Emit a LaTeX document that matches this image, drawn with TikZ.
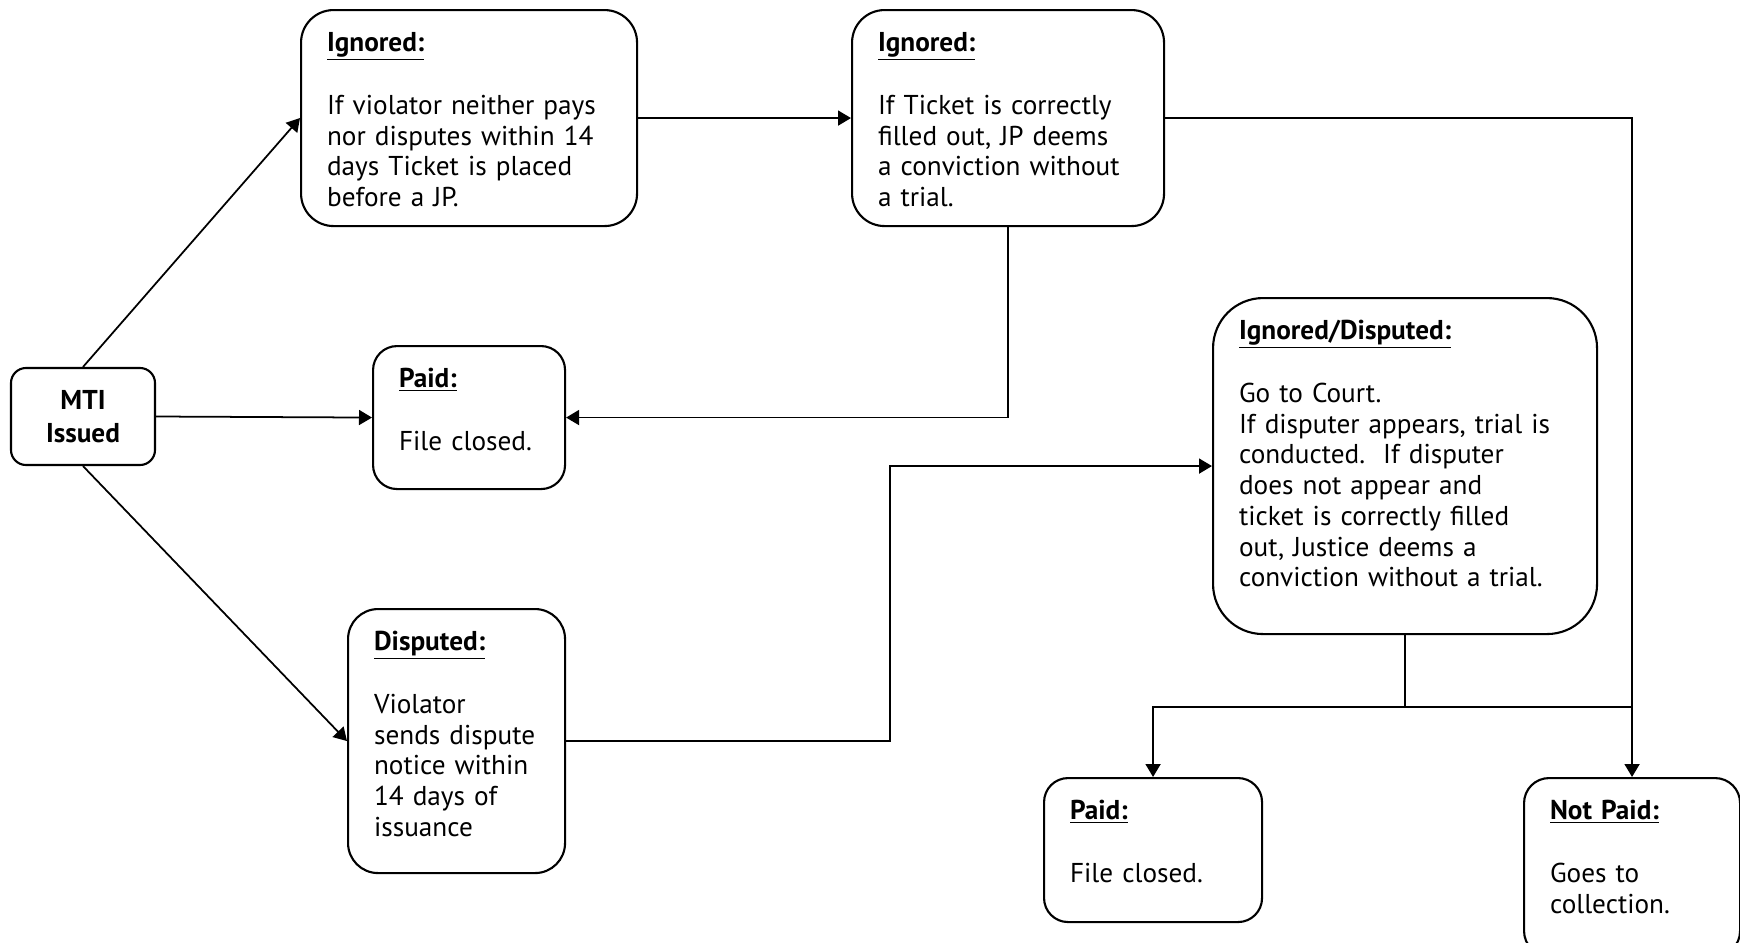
\documentclass[tikz,border=0pt]{standalone}
\usepackage{fontspec}
\setmainfont{PT Sans}
\usepackage{tikz}
\usetikzlibrary{arrows.meta}

\tikzset{
  card/.style={rectangle, draw=black, line width=1.2pt, text width=#1,
    align=left, inner xsep=0.52cm, inner ysep=0.44cm, text height=0.38cm,
    anchor=north west, font=\fontsize{15.5}{17.5}\selectfont},
  flow/.style={line width=1pt, -{Triangle[length=0.26cm,width=0.3cm]}}
}

\begin{document}
\begin{tikzpicture}
\clip (0,0) rectangle (34.8,-18.84);
\fill[white] (0,0) rectangle (34.8,-18.84);
% boxes
\node[rectangle, rounded corners=0.3cm, draw=black, line width=1.2pt,
minimum width=2.88cm, minimum height=1.94cm, align=center,
font=\fontsize{15.5}{19}\selectfont\bfseries] (mti) at (1.66,-8.33) {MTI\\ Issued};
\node[card=5.68cm, text depth=3.06cm, rounded corners=0.65cm] (ign1) at (6.0,-0.18)
{\underline{\textbf{Ignored:}}\\[18.5pt] If violator neither pays\\ nor disputes within 14\\ days Ticket is placed\\ before a JP.};
\node[card=5.20cm, text depth=3.06cm, rounded corners=0.65cm] (ign2) at (17.02,-0.18)
{\underline{\textbf{Ignored:}}\\[18.5pt] If Ticket is correctly\\ filled out, JP deems\\ a conviction without\\ a trial.};
\node[card=2.80cm, text depth=1.60cm, rounded corners=0.48cm] (paid1) at (7.44,-6.90)
{\underline{\textbf{Paid:}}\\[18.5pt] File closed.};
\node[card=3.30cm, text depth=4.02cm, rounded corners=0.6cm] (disp) at (6.94,-12.16)
{\underline{\textbf{Disputed:}}\\[18.5pt] Violator\\ sends dispute\\ notice within\\ 14 days of\\ issuance};
\node[card=6.64cm, text depth=5.46cm, rounded corners=1.0cm] (igndisp) at (24.24,-5.94)
{\underline{\textbf{Ignored/Disputed:}}\\[18.5pt] Go to Court.\\ If disputer appears, trial is\\ conducted.\ \ If disputer\\ does not appear and\\ ticket is correctly filled\\ out, Justice deems a\\ conviction without a trial.};
\node[card=3.32cm, text depth=1.62cm, rounded corners=0.48cm] (paid2) at (20.86,-15.54)
{\underline{\textbf{Paid:}}\\[18.5pt] File closed.};
\node[card=3.28cm, text depth=2.30cm, rounded corners=0.5cm] (notpaid) at (30.46,-15.54)
{\underline{\textbf{Not Paid:}}\\[18.5pt] Goes to\\ collection.};
\coordinate (split) at ([yshift=-1.44cm]igndisp.south);
% connectors
\draw[flow] (mti.north) -- (ign1.west);
\draw[flow] (mti.east) -- (paid1.west);
\draw[flow] (mti.south) -- (disp.west);
\draw[flow] (ign1.east) -- (ign2.west);
\draw[flow] (ign2.south) |- (paid1.east);
\draw[flow] (ign2.east) -| (notpaid.north);
\draw[flow] (disp.east) -- ([xshift=6.48cm]disp.east) |- (igndisp.west);
\draw[line width=1pt] (igndisp.south) -- (split);
\draw[flow] (split) -| (paid2.north);
\draw[line width=1pt] (split) -- (split -| notpaid.north);
\end{tikzpicture}
\end{document}
